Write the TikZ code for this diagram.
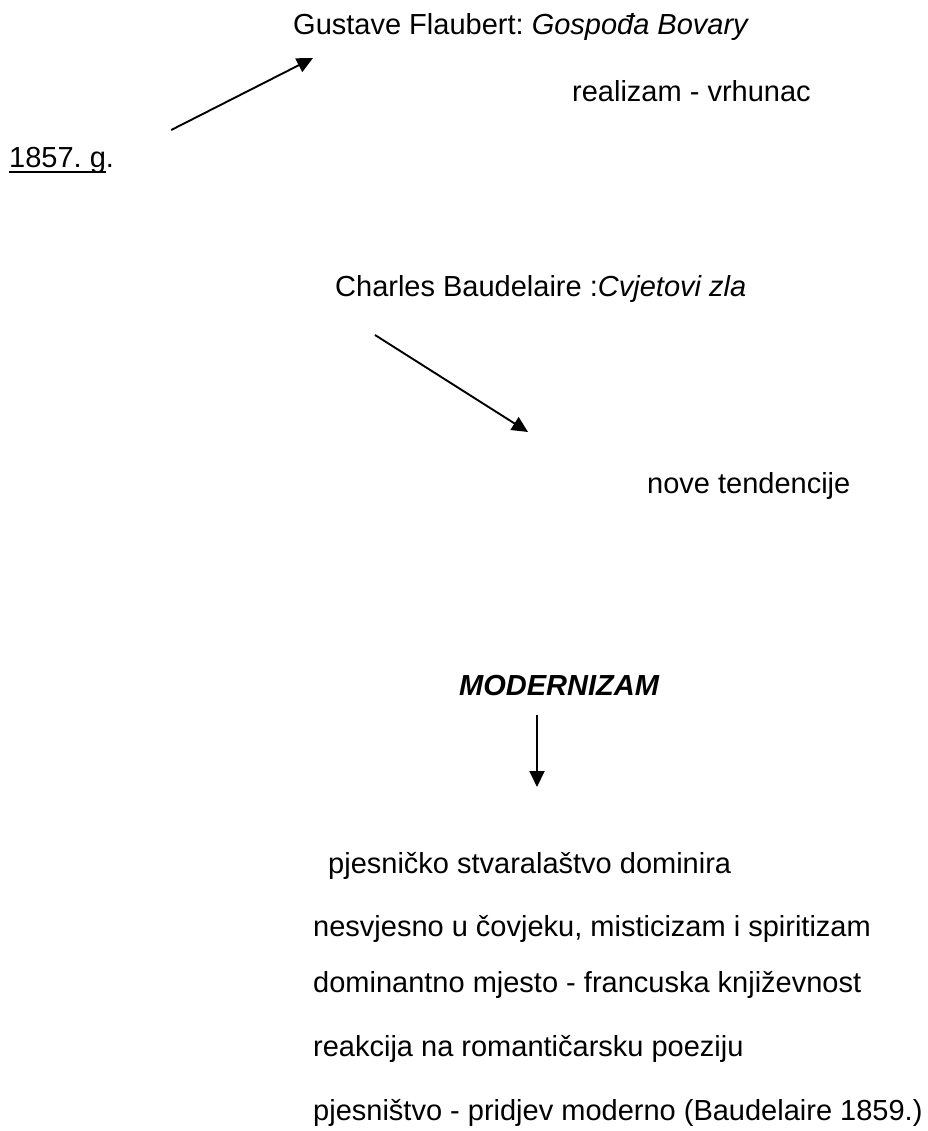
\documentclass[tikz,border=0pt]{standalone}
\usepackage{fontspec}
\setmainfont{Liberation Sans}
\usetikzlibrary{arrows.meta, positioning, calc}
\frenchspacing

\newlength\ulwd
\newcommand\datum[1]{\settowidth\ulwd{#1}\rlap{\rule[-5pt]{\ulwd}{2pt}}#1}

\begin{document}
\begin{tikzpicture}[
  x=1pt, y=-1pt,
  every node/.style = {
    inner sep=0pt,
    anchor=base west,
    font=\fontsize{29}{34}\selectfont
  },
  arrow/.style = {line width=1.9pt, -{Triangle[length=16pt, width=15pt]}}
]

\useasboundingbox (0,0) rectangle (927,1131);

% ======================================================
% 1857: realism and the new tendencies
% ======================================================

\node (flaubert) at (293,35) {Gustave Flaubert: \textit{Gospođa Bovary}};
\node (realizam) at (572,102) {realizam - vrhunac};
\node (godina) at (9,168) {\datum{1857. g}.};

\node (baudelaire) at (335,297) {Charles Baudelaire :\textit{Cvjetovi zla}};
\node (tendencije) at (647,493) {nove tendencije};

\coordinate (god_out) at ($(godina.base east)+(57,-38)$);
\coordinate (fla_in) at ($(flaubert.base west)+(20,23)$);
\draw[arrow] (god_out) -- (fla_in);

\coordinate (bau_out) at ($(baudelaire.base west)+(40,38)$);
\coordinate (ten_in) at ($(tendencije.base west)+(-119,-61)$);
\draw[arrow] (bau_out) -- (ten_in);

% ======================================================
% MODERNIZAM and its features
% ======================================================

\node (modernizam) at (459,695) {\textbf{\textit{MODERNIZAM}}};

\coordinate (mod_out) at ($(modernizam.base west)+(78,20)$);
\coordinate (mod_in) at ($(mod_out)+(0,72)$);
\draw[arrow] (mod_out) -- (mod_in);

\node (obiljezje1) at (328,873) {pjesničko stvaralaštvo dominira};
\node (obiljezje2) at ($(obiljezje1.base west)+(-15,63)$) {nesvjesno u čovjeku, misticizam i spiritizam};
\node (obiljezje3) at ($(obiljezje2.base west)+(0,56)$) {dominantno mjesto - francuska književnost};
\node (obiljezje4) at ($(obiljezje3.base west)+(0,64)$) {reakcija na romantičarsku poeziju};
\node (obiljezje5) at ($(obiljezje4.base west)+(0,64)$) {pjesništvo - pridjev moderno (Baudelaire 1859.)};

\end{tikzpicture}
\end{document}
